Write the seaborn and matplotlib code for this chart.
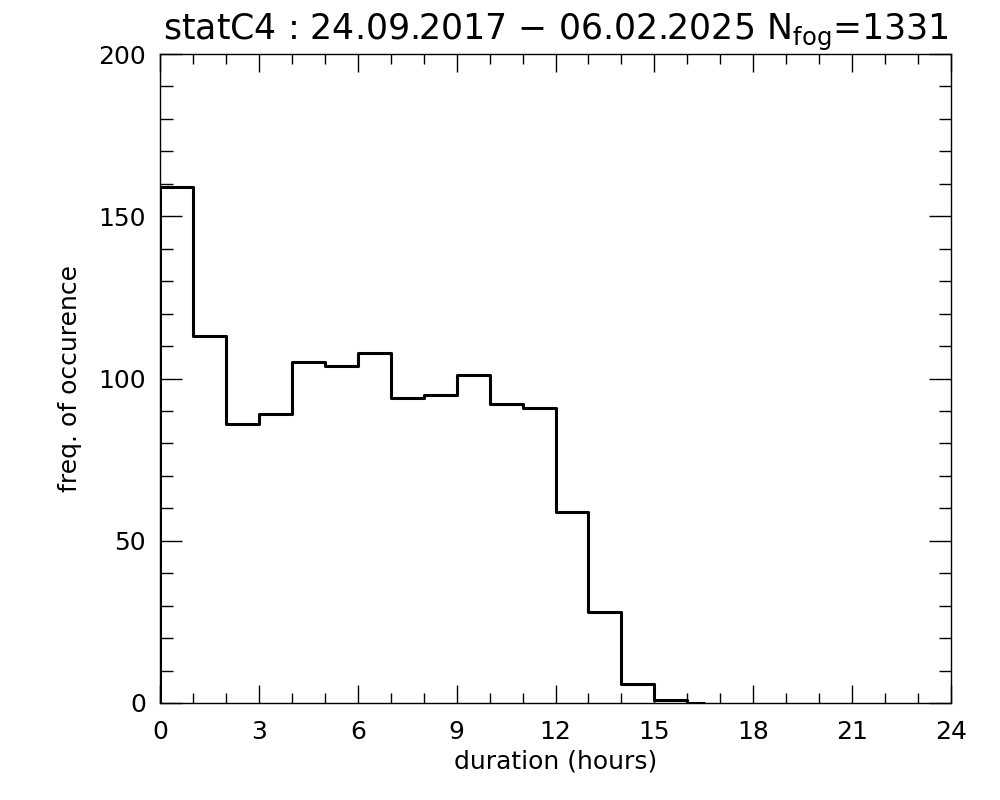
import numpy as np
import pandas as pd
import seaborn as sns
import matplotlib.pyplot as plt
from matplotlib.ticker import MultipleLocator

# fog duration histogram (1 hour bins), last bin drawn as half bin
hours = [0, 1, 2, 3, 4, 5, 6, 7, 8, 9, 10, 11, 12, 13, 14, 15, 16]
counts = [159, 113, 86, 89, 105, 104, 108, 94, 95, 101, 92, 91, 59, 28, 6, 1, 0]
n_fog = 1331
title_txt = "statC4 : 24.09.2017 $-$ 06.02.2025 N$_{\\rm fog}$=" + str(n_fog)

sns.set_theme(style="ticks")
plt.rcParams["font.family"] = ["DejaVu Sans"]
plt.rcParams["mathtext.default"] = "regular"
plt.rcParams["text.color"] = "black"
plt.rcParams["axes.labelcolor"] = "black"
plt.rcParams["xtick.labelcolor"] = "black"
plt.rcParams["ytick.labelcolor"] = "black"

# build step outline: start from 0 at x=0, close with half-bin at the end
xs = [hours[0]] + hours + [hours[-1] + 0.5]
ys = [0] + counts + [counts[-1]]
df = pd.DataFrame({"x": xs, "y": ys})

fig = plt.figure(figsize=(10, 8), dpi=100)
ax = fig.add_axes([0.16, 0.12125, 0.791, 0.81125])

sns.lineplot(data=df, x="x", y="y", drawstyle="steps-post", estimator=None,
             sort=False, color="black", linewidth=2.2, ax=ax)

ax.set_xlim(0, 24)
ax.set_ylim(0, 200)
ax.xaxis.set_major_locator(MultipleLocator(3))
ax.xaxis.set_minor_locator(MultipleLocator(1))
ax.yaxis.set_major_locator(MultipleLocator(50))
ax.yaxis.set_minor_locator(MultipleLocator(10))
ax.tick_params(which="both", direction="in", top=True, right=True,
               color="black", width=1)
ax.tick_params(axis="x", which="major", length=13, pad=12, labelsize=18)
ax.tick_params(axis="x", which="minor", length=7)
ax.tick_params(axis="y", which="major", length=16, pad=10, labelsize=18)
ax.tick_params(axis="y", which="minor", length=9)
for s in ax.spines.values():
    s.set_color("black")
    s.set_linewidth(1)

ax.set_xlabel("duration (hours)", fontsize=18, labelpad=4)
ax.set_ylabel("freq. of occurence", fontsize=18, labelpad=12)
ax.set_title(title_txt, fontsize=25, pad=10, color="black")

fig.savefig("out.png", dpi=100)
